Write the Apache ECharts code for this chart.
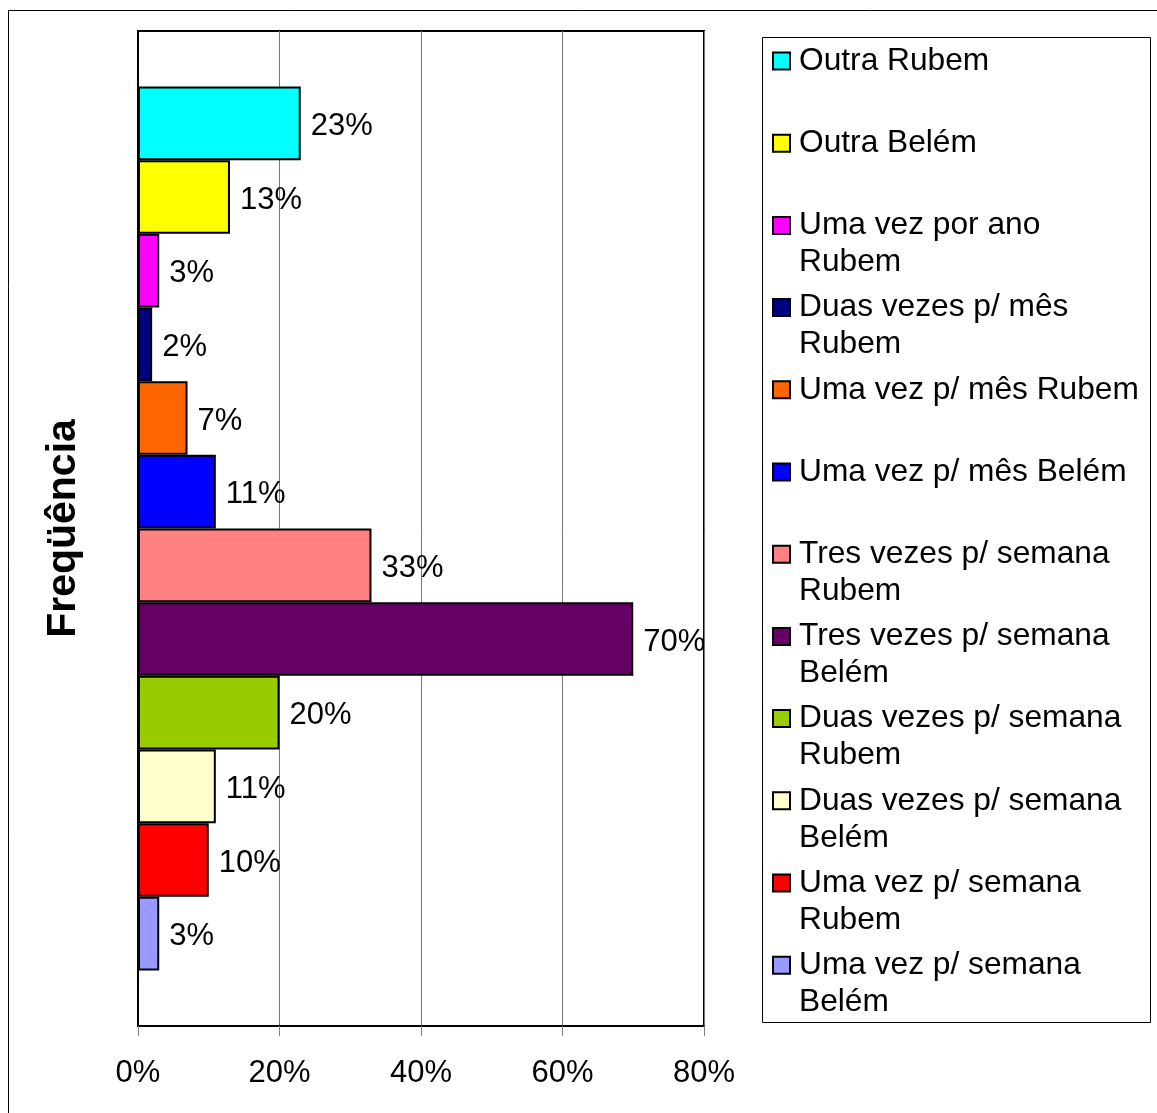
<!DOCTYPE html>
<html>
<head>
<meta charset="utf-8">
<script src="https://cdn.jsdelivr.net/npm/echarts@6/dist/echarts.min.js"></script>
<style>
html,body{margin:0;padding:0;background:#fff;}
#chart{width:1157px;height:1113px;}
</style>
</head>
<body>
<div id="chart"></div>
<script>
var seriesNames = [
  "Outra Rubem",
  "Outra Belém",
  "Uma vez por ano Rubem",
  "Duas vezes p/ mês Rubem",
  "Uma vez p/ mês Rubem",
  "Uma vez p/ mês Belém",
  "Tres vezes p/ semana Rubem",
  "Tres vezes p/ semana Belém",
  "Duas vezes p/ semana Rubem",
  "Duas vezes p/ semana Belém",
  "Uma vez p/ semana Rubem",
  "Uma vez p/ semana Belém"
];
// legend line breaks as in the original
var legendLines = [
  ["Outra Rubem"],
  ["Outra Belém"],
  ["Uma vez por ano", "Rubem"],
  ["Duas vezes p/ mês", "Rubem"],
  ["Uma vez p/ mês Rubem"],
  ["Uma vez p/ mês Belém"],
  ["Tres vezes p/ semana", "Rubem"],
  ["Tres vezes p/ semana", "Belém"],
  ["Duas vezes p/ semana", "Rubem"],
  ["Duas vezes p/ semana", "Belém"],
  ["Uma vez p/ semana", "Rubem"],
  ["Uma vez p/ semana", "Belém"]
];
var seriesValues = [23, 13, 3, 2, 7, 11, 33, 70, 20, 11, 10, 3];
var seriesColors = ["#00FFFF", "#FFFF00", "#FF00FF", "#000080", "#FF6600", "#0000FF",
                    "#FF8080", "#660066", "#99CC00", "#FFFFCC", "#FF0000", "#9999FF"];
var categories = ["Freqüência"];
var xTicks = [0, 20, 40, 60, 80];

var FONT = "'Liberation Sans', Arial, sans-serif";
var chart = echarts.init(document.getElementById('chart'));

var legendMap = {};
seriesNames.forEach(function (n, i) {
  var l = legendLines[i];
  // pad to 3 lines so the icon sits on the first text line
  legendMap[n] = l.length === 1 ? "\n" + l[0] + "\n" : "\n" + l[0] + "\n" + l[1];
});

var series = seriesNames.map(function (name, i) {
  return {
    name: name,
    type: 'bar',
    barGap: '0%',
    barCategoryGap: '11.15%',
    data: [seriesValues[i]],
    itemStyle: { color: seriesColors[i], borderColor: '#000', borderWidth: 2 },
    label: {
      show: true, position: 'right', distance: 10, offset: [0, 3],
      formatter: '{c}%', color: '#000', fontSize: 31, fontFamily: FONT
    },
    emphasis: { disabled: true },
    animation: false
  };
});

chart.setOption({
  animation: false,
  backgroundColor: '#fff',
  grid: {
    left: 138, top: 31, right: 453, bottom: 87,
    show: true, borderColor: '#000', borderWidth: 2, backgroundColor: 'transparent'
  },
  xAxis: {
    type: 'value', min: xTicks[0], max: xTicks[xTicks.length - 1], interval: 20,
    axisLine: { show: true, lineStyle: { color: '#000', width: 2 } },
    axisTick: { show: true, length: 10, lineStyle: { color: '#808080', width: 1 } },
    axisLabel: { formatter: '{value}%', fontSize: 31, color: '#000', fontFamily: FONT, margin: 32 },
    splitLine: { show: true, lineStyle: { color: '#777', width: 1 } }
  },
  yAxis: {
    type: 'category', data: categories,
    axisLine: { show: true, lineStyle: { color: '#000', width: 2 } },
    axisTick: { show: false },
    axisLabel: { show: false },
    name: 'Freqüência', nameLocation: 'middle', nameGap: 54, nameRotate: 90,
    nameTextStyle: { fontSize: 41, fontWeight: 'bold', color: '#000', fontFamily: FONT }
  },
  legend: {
    orient: 'vertical',
    left: 772, top: 5.5,
    padding: 0,
    itemGap: -28.8,
    itemWidth: 17, itemHeight: 17,
    icon: 'rect',
    selectedMode: false,
    data: seriesNames,
    formatter: function (n) { return legendMap[n]; },
    textStyle: { fontSize: 31.7, lineHeight: 37, color: '#000', fontFamily: FONT, padding: [0, 0, 0, 4] }
  },
  graphic: [
    { type: 'rect', silent: true, z: -10,
      shape: { x: 8.5, y: 10.5, width: 1300, height: 1300 },
      style: { fill: 'none', stroke: '#000', lineWidth: 1 } },
    { type: 'rect', silent: true, z: -5,
      shape: { x: 762.5, y: 37.5, width: 388, height: 985 },
      style: { fill: '#fff', stroke: '#000', lineWidth: 1 } }
  ],
  series: series
});
</script>
</body>
</html>
